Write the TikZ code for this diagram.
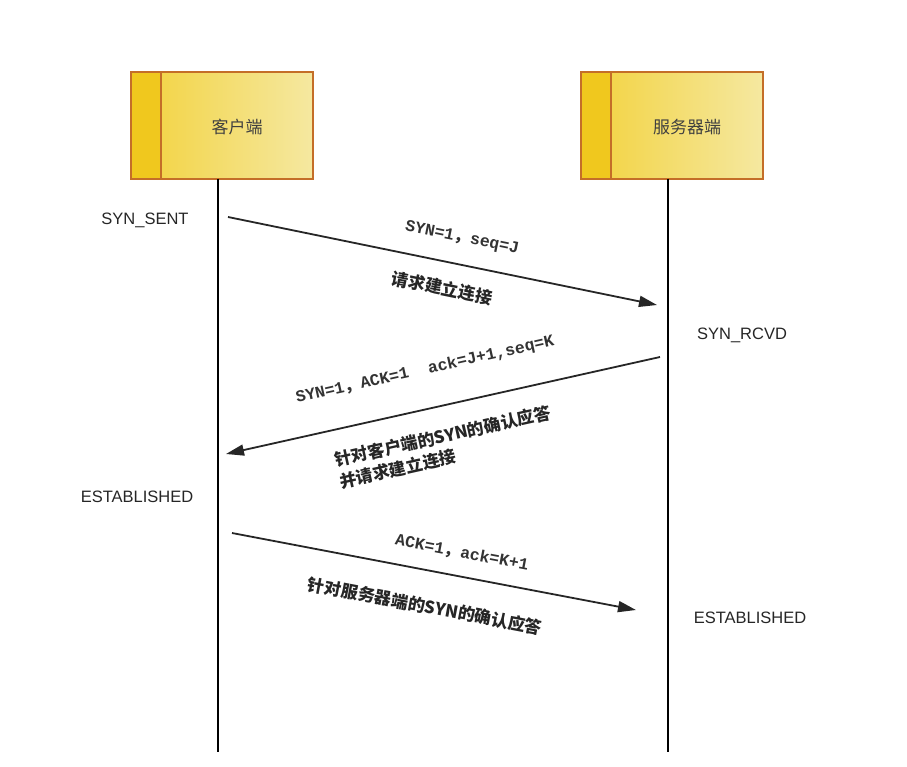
\documentclass[tikz,border=0pt]{standalone}
\usepackage{fontspec}
\setmainfont{Liberation Sans}
\newfontfamily\cjk{Noto Sans CJK SC}
\newfontfamily\monof{Liberation Mono}
\usetikzlibrary{arrows.meta}
\definecolor{boxedge}{RGB}{196,110,40}
\definecolor{stripf}{RGB}{240,200,30}
\definecolor{boxl}{RGB}{242,210,60}
\definecolor{boxr}{RGB}{245,232,160}
\newcommand{\cm}{{\cjk ，}}
\begin{document}
\begin{tikzpicture}[x=1pt,y=-1pt,
  actor/.style={line width=1.5pt,minimum width=180pt,minimum height=105pt,left color=boxl,right color=boxr,inner sep=0pt},
  state/.style={font=\fontsize{16.5}{20}\selectfont,text=black!85},
  msg/.style={-{Triangle[length=18pt,width=11pt]},line width=1.8pt,black!85},
  lbl/.style={font=\fontsize{16.5}{20}\selectfont\monof\bfseries,text=black!80},
  cn/.style={font=\fontsize{17}{22}\selectfont\cjk\bfseries,text=black!85,align=left}]
\useasboundingbox (0,0) rectangle (907,767);
\node[actor] (c) at (222,125.5) {};
\fill[stripf] (c.north west) rectangle ([xshift=30pt]c.south west);
\draw[boxedge,line width=1.8pt] (c.north west) rectangle (c.south east) ([xshift=30pt]c.north west) -- ([xshift=30pt]c.south west);
\node[font=\fontsize{17}{21}\selectfont\cjk,text=black!75] (ct) at (237,127) {客户端};
\node[actor] (s) at (672,125.5) {};
\fill[stripf] (s.north west) rectangle ([xshift=30pt]s.south west);
\draw[boxedge,line width=1.8pt] (s.north west) rectangle (s.south east) ([xshift=30pt]s.north west) -- ([xshift=30pt]s.south west);
\node[font=\fontsize{17}{21}\selectfont\cjk,text=black!75] (st) at (687,127) {服务器端};
\coordinate (cb) at (218,752); \coordinate (sb) at (668,752);
\draw[line width=1.5pt] (c.south -| cb) -- (cb);
\draw[line width=1.5pt] (s.south -| sb) -- (sb);
\node[state] (s1) at (145,220) {SYN\_SENT};
\node[state] (s2) at (742,335) {SYN\_RCVD};
\node[state] (s3) at (137,497) {ESTABLISHED};
\node[state] (s4) at (750,618) {ESTABLISHED};
\coordinate (a1s) at (228,217); \coordinate (a1e) at (657,305);
\coordinate (a2s) at (660,357); \coordinate (a2e) at (226,454);
\coordinate (a3s) at (232,533); \coordinate (a3e) at (636,610);
\draw[msg] (a1s) -- (a1e);
\draw[msg] (a2s) -- (a2e);
\draw[msg] (a3s) -- (a3e);
\node[lbl,rotate=-11.6] (l1) at (462,238) {SYN=1\cm seq=J};
\node[cn,rotate=-11.6] (l2) at (442,288) {请求建立连接};
\node[lbl,rotate=12.6] (l3) at (425,370) {SYN=1\cm ACK=1\ \ ack=J+1,seq=K};
\node[cn,rotate=12.6] (l4) at (445,447) {针对客户端的SYN的确认应答\\并请求建立连接};
\node[lbl,rotate=-10.8] (l5) at (462,553) {ACK=1\cm ack=K+1};
\node[cn,rotate=-10.8] (l6) at (425,606) {针对服务器端的SYN的确认应答};
\end{tikzpicture}
\end{document}
